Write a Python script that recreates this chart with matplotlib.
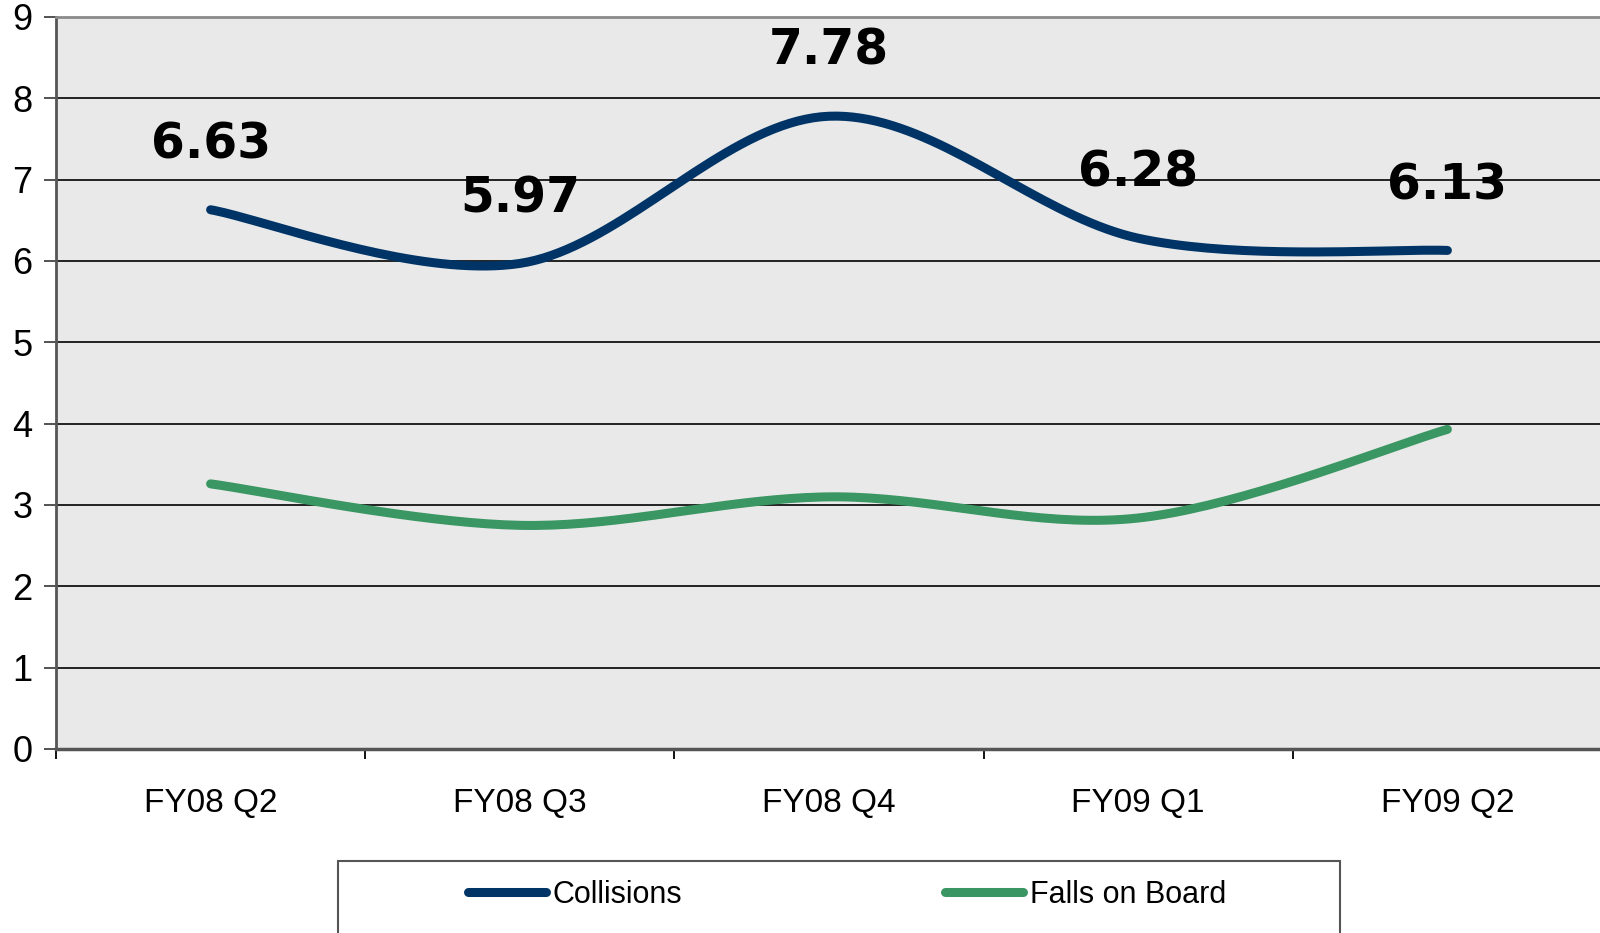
import numpy as np
import matplotlib
matplotlib.use("Agg")
import matplotlib.pyplot as plt
from matplotlib.patches import Rectangle
from matplotlib.lines import Line2D

categories = ["FY08 Q2", "FY08 Q3", "FY08 Q4", "FY09 Q1", "FY09 Q2"]
collisions = [6.63, 5.97, 7.78, 6.28, 6.13]
falls_on_board = [3.26, 2.75, 3.10, 2.84, 3.93]
y_ticks = list(range(0, 10))

COL_NAVY = "#003466"
COL_GREEN = "#3a9662"


def smooth(xs, ys, n=40):
    """Excel-style smoothed line (Catmull-Rom Bezier segments)."""
    P = np.column_stack([xs, ys]).astype(float)
    out = []
    m = len(P)
    for i in range(m - 1):
        p0 = P[i - 1] if i > 0 else P[i]
        p1 = P[i]
        p2 = P[i + 1]
        p3 = P[i + 2] if i + 2 < m else P[i + 1]
        c1 = p1 + (p2 - p0) / 6.0
        c2 = p2 - (p3 - p1) / 6.0
        t = np.linspace(0, 1, n)[:, None]
        seg = ((1 - t) ** 3) * p1 + 3 * ((1 - t) ** 2) * t * c1 + 3 * (1 - t) * t ** 2 * c2 + t ** 3 * p2
        if i > 0:
            seg = seg[1:]
        out.append(seg)
    arr = np.vstack(out)
    return arr[:, 0], arr[:, 1]


plt.rcParams['font.family'] = ['Liberation Sans', 'DejaVu Sans']

fig = plt.figure(figsize=(16, 9.33), dpi=100)
W, H = 1600, 933
left, right, top, bottom = 56, 1602, 17, 749
ax = fig.add_axes([left / W, 1 - bottom / H, (right - left) / W, (bottom - top) / H])
ax.set_facecolor("#e9e9e9")

x = np.arange(len(categories))
for vals, col, lab in [(collisions, COL_NAVY, "Collisions"), (falls_on_board, COL_GREEN, "Falls on Board")]:
    sx, sy = smooth(x, vals)
    ax.plot(sx, sy, color=col, lw=6.5, solid_capstyle="round", solid_joinstyle="round", zorder=3, label=lab)

for xi, v in zip(x, collisions):
    ax.annotate(f"{v:.2f}", (xi, v), xytext=(0, 47), textcoords="offset points",
                ha="center", va="center", fontsize=35, fontweight="bold",
                family="DejaVu Sans", color="black", zorder=4)

ax.set_xlim(-0.5, len(categories) - 0.5)
ax.set_ylim(0, 9)
ax.set_yticks(y_ticks)
ax.set_yticklabels([str(t) for t in y_ticks], fontsize=26)
ax.yaxis.grid(True, color="black", lw=1.2)
ax.set_axisbelow(True)

ax.set_xticks(x)
ax.set_xticklabels(categories, fontsize=24)
ax.set_xticks(np.arange(-0.5, len(categories) - 0.5, 1.0), minor=True)
ax.tick_params(axis="x", which="major", length=0, pad=28)
ax.tick_params(axis="x", which="minor", length=7, width=1.3, direction="out", color="black")
ax.tick_params(axis="y", length=9, width=1.3, pad=8, color="#444444")

ax.spines["top"].set_color("#8a8a8a")
ax.spines["top"].set_linewidth(2)
ax.spines["right"].set_visible(False)
ax.spines["left"].set_color("#555555")
ax.spines["left"].set_linewidth(2)
ax.spines["bottom"].set_color("#555555")
ax.spines["bottom"].set_linewidth(2.5)

# Legend box (extends past bottom of figure as in reference)
fig.patches.append(Rectangle((338 / W, -0.05), (1340 - 338) / W, (1 - 861 / H) + 0.05,
                             transform=fig.transFigure, facecolor="white",
                             edgecolor="#555555", lw=1.5, zorder=1))
handles = [Line2D([], [], color=COL_NAVY, lw=6.5, solid_capstyle="round"),
           Line2D([], [], color=COL_GREEN, lw=6.5, solid_capstyle="round")]
leg = fig.legend(handles, ["Collisions", "Falls on Board"], ncol=2, frameon=False,
                 fontsize=22, handlelength=2.55, handletextpad=0.23, columnspacing=8.6,
                 loc="center left", bbox_to_anchor=(468 / W, 1 - 895 / H),
                 borderpad=0, borderaxespad=0)
leg.set_zorder(2)

fig.savefig("out.png", dpi=100)
